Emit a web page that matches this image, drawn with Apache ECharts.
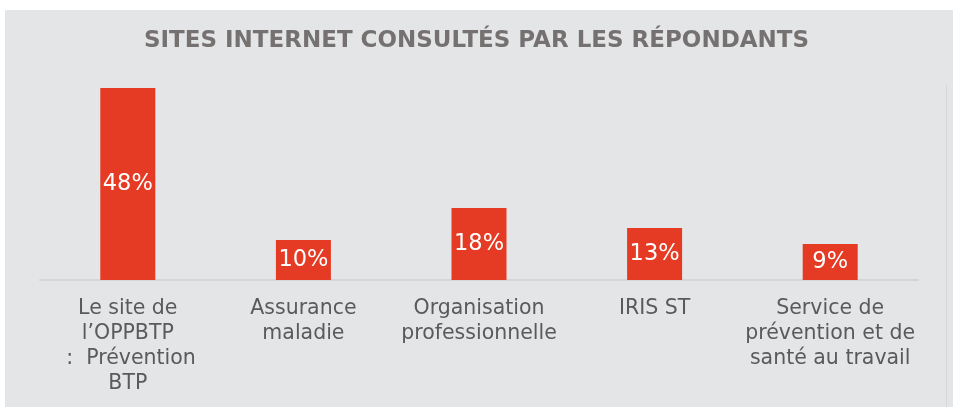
<!DOCTYPE html>
<html>
<head>
<meta charset="utf-8">
<script src="https://cdn.jsdelivr.net/npm/echarts@6/dist/echarts.min.js"></script>
<style>
html,body{margin:0;padding:0;background:#ffffff;}
#chart{width:953px;height:407px;}
</style>
</head>
<body>
<div id="chart"></div>
<script>
const titleText = "SITES INTERNET CONSULTÉS PAR LES RÉPONDANTS";
const categories = [
  "Le site de\nl\u2019OPPBTP\n :  Prévention\nBTP",
  "Assurance\nmaladie",
  "Organisation\nprofessionnelle",
  "IRIS ST",
  "Service de\nprévention et de\nsanté au travail"
];
const values = [48, 10, 18, 13, 9];

const chart = echarts.init(document.getElementById('chart'), null, {renderer: 'canvas'});
const fontFam = '"DejaVu Sans", sans-serif';
chart.setOption({
  backgroundColor: '#ffffff',
  animation: false,
  graphic: [
    {type: 'rect', z: -10, shape: {x: 5, y: 10, width: 948, height: 397}, style: {fill: '#e4e5e7'}},
    {type: 'line', z: -9, shape: {x1: 946.5, y1: 85, x2: 946.5, y2: 407}, style: {stroke: '#d6d7d9', lineWidth: 1}}
  ],
  title: {
    text: titleText,
    left: 'center',
    top: 25,
    textStyle: {color: '#757171', fontSize: 23, fontWeight: 'bold', fontFamily: fontFam}
  },
  grid: {left: 40, right: 35, top: 80, bottom: 127, containLabel: false},
  xAxis: {
    type: 'category',
    data: categories,
    axisLine: {show: true, lineStyle: {color: '#d4d5d7', width: 2}},
    axisTick: {show: false},
    axisLabel: {
      interval: 0,
      color: '#5a5a5a',
      fontSize: 20.5,
      lineHeight: 25,
      margin: 16,
      fontFamily: fontFam
    }
  },
  yAxis: {
    type: 'value',
    min: 0,
    max: 50,
    show: false,
    splitLine: {show: false}
  },
  series: [{
    type: 'bar',
    data: values,
    barWidth: 55,
    itemStyle: {color: '#e53a23'},
    label: {
      show: true,
      position: 'inside',
      formatter: '{c}%',
      color: '#ffffff',
      fontSize: 22.5,
      fontFamily: fontFam
    }
  }]
});
</script>
</body>
</html>
